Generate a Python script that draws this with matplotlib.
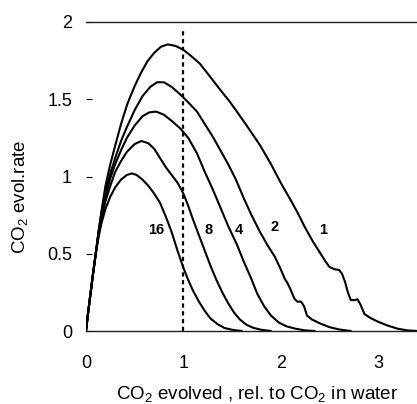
import matplotlib
matplotlib.use("Agg")
import matplotlib.pyplot as plt

plt.rcParams['font.family'] = ['Liberation Sans', 'DejaVu Sans']
plt.rcParams['mathtext.fontset'] = 'custom'
plt.rcParams['mathtext.rm'] = 'Liberation Sans'
plt.rcParams['mathtext.it'] = 'Liberation Sans'
plt.rcParams['mathtext.default'] = 'regular'

# shared steep start of all curves
rise_x = [0.0, 0.02, 0.04, 0.07, 0.10]
rise_y = [0.0, 0.11, 0.21, 0.36, 0.50]

# curve "1"
c1_x = [0.13, 0.16, 0.20, 0.25, 0.30, 0.36, 0.42, 0.45, 0.50, 0.56, 0.63, 0.70, 0.77, 0.84,
        0.92, 1.00, 1.08, 1.17, 1.27, 1.38, 1.47, 1.55, 1.65, 1.79, 1.90, 2.00, 2.10, 2.17,
        2.25, 2.33, 2.40, 2.46, 2.50, 2.55, 2.60, 2.63, 2.66, 2.69, 2.72, 2.76, 2.79, 2.82,
        2.86, 2.92, 3.00, 3.10, 3.20, 3.30, 3.40]
c1_y = [0.65, 0.78, 0.94, 1.08, 1.20, 1.34, 1.46, 1.51, 1.585, 1.665, 1.745, 1.80, 1.84, 1.855,
        1.845, 1.82, 1.78, 1.73, 1.65, 1.56, 1.49, 1.42, 1.33, 1.20, 1.08, 0.96, 0.85, 0.77,
        0.67, 0.58, 0.51, 0.45, 0.415, 0.40, 0.395, 0.37, 0.32, 0.25, 0.20, 0.20, 0.205, 0.17,
        0.11, 0.085, 0.06, 0.035, 0.015, 0.004, 0.0]

# curve "2"
c2_x = [0.13, 0.16, 0.20, 0.25, 0.30, 0.36, 0.42, 0.50, 0.58, 0.66, 0.73, 0.80, 0.88, 0.97,
        1.05, 1.14, 1.22, 1.30, 1.38, 1.46, 1.54, 1.62, 1.70, 1.78, 1.86, 1.94, 2.00, 2.04,
        2.07, 2.10, 2.14, 2.17, 2.21, 2.24, 2.27, 2.32, 2.40, 2.50, 2.60, 2.72]
c2_y = [0.645, 0.77, 0.90, 1.02, 1.12, 1.23, 1.32, 1.43, 1.52, 1.58, 1.61, 1.61, 1.58, 1.53,
        1.48, 1.42, 1.34, 1.26, 1.17, 1.08, 0.98, 0.86, 0.75, 0.65, 0.56, 0.48, 0.40, 0.34,
        0.31, 0.27, 0.21, 0.19, 0.19, 0.16, 0.10, 0.075, 0.05, 0.025, 0.01, 0.0]

# curve "4"
c4_x = [0.13, 0.16, 0.20, 0.25, 0.30, 0.36, 0.42, 0.50, 0.58, 0.65, 0.72, 0.80, 0.88, 0.97,
        1.05, 1.14, 1.22, 1.30, 1.38, 1.46, 1.55, 1.62, 1.69, 1.76, 1.83, 1.90, 1.98, 2.06,
        2.15, 2.25, 2.35]
c4_y = [0.64, 0.75, 0.87, 0.99, 1.08, 1.17, 1.25, 1.33, 1.39, 1.415, 1.42, 1.40, 1.36, 1.31,
        1.25, 1.15, 1.03, 0.92, 0.80, 0.68, 0.56, 0.45, 0.35, 0.24, 0.16, 0.10, 0.055, 0.03,
        0.015, 0.004, 0.0]

# curve "8"
c8_x = [0.13, 0.16, 0.20, 0.25, 0.30, 0.36, 0.42, 0.50, 0.57, 0.64, 0.70, 0.76, 0.82, 0.88,
        0.94, 1.00, 1.05, 1.10, 1.16, 1.22, 1.28, 1.34, 1.40, 1.46, 1.52, 1.58, 1.65, 1.72,
        1.80, 1.90]
c8_y = [0.63, 0.73, 0.84, 0.94, 1.03, 1.10, 1.16, 1.21, 1.23, 1.215, 1.18, 1.12, 1.06, 1.01,
        0.96, 0.89, 0.81, 0.72, 0.62, 0.52, 0.42, 0.33, 0.25, 0.18, 0.12, 0.075, 0.04, 0.02,
        0.008, 0.0]

# curve "16"
c16_x = [0.13, 0.16, 0.20, 0.25, 0.30, 0.36, 0.42, 0.47, 0.52, 0.58, 0.64, 0.70, 0.76, 0.82,
         0.88, 0.94, 1.00, 1.05, 1.10, 1.16, 1.22, 1.28, 1.35, 1.42, 1.50, 1.60]
c16_y = [0.61, 0.70, 0.79, 0.87, 0.93, 0.98, 1.01, 1.02, 1.01, 0.98, 0.94, 0.89, 0.83, 0.74,
         0.64, 0.52, 0.41, 0.33, 0.26, 0.19, 0.13, 0.08, 0.045, 0.02, 0.008, 0.0]

curves = [(c1_x, c1_y), (c2_x, c2_y), (c4_x, c4_y), (c8_x, c8_y), (c16_x, c16_y)]

labels = ["1", "2", "4", "8", "16"]
label_x = [2.44, 1.94, 1.57, 1.26, 0.72]
label_y = [0.655, 0.67, 0.655, 0.655, 0.655]

fig = plt.figure(figsize=(4.17, 4.04), dpi=100)
ax = fig.add_axes([86 / 417, 73 / 404, 331 / 417, 309 / 404])

for cx, cy in curves:
    ax.plot(rise_x + cx, rise_y + cy, color="black", linewidth=1.5,
            solid_joinstyle="round", solid_capstyle="round")

for lab, lx, ly in zip(labels, label_x, label_y):
    ax.text(lx, ly, lab, fontsize=10.5, fontweight="bold", ha="center", va="center")

ax.plot([1, 1], [0, 1.96], color="black", linewidth=1.6, linestyle=(0, (1.9, 1.6)))

ax.set_xlim(0, 3.40)
ax.set_ylim(0, 2)
ax.set_xticks([0, 1, 2, 3])
ax.set_xticklabels(["0", "1", "2", "3"])
ax.set_yticks([0, 0.5, 1, 1.5, 2])
ax.set_yticklabels(["0", "0.5", "1", "1.5", "2"])
ax.tick_params(axis="x", length=0, pad=17, labelsize=13)
ax.tick_params(axis="y", direction="in", length=4, width=0.8, pad=10, labelsize=13)

for side in ["left", "right"]:
    ax.spines[side].set_visible(False)
for side in ["top", "bottom"]:
    ax.spines[side].set_linewidth(1.0)
    ax.spines[side].set_color("#222222")

ax.set_xlabel(r"CO$_2$ evolved , rel. to CO$_2$ in water", fontsize=13.5)
ax.xaxis.set_label_coords(0.517, -0.172)
ax.set_ylabel(r"CO$_2$ evol.rate", fontsize=13.5)
ax.yaxis.set_label_coords(-0.17, 0.434)

fig.savefig("out.png", dpi=100)
